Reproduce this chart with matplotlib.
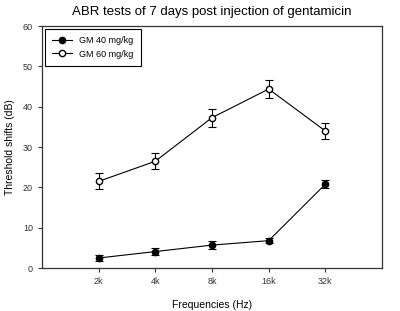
import matplotlib
matplotlib.use('Agg')
import matplotlib.pyplot as plt

# dados
freqs = ['2k', '4k', '8k', '16k', '32k']
gm40 = [2.5, 4.1, 5.7, 6.8, 20.8]
gm40_err = [0.7, 0.9, 1.0, 0.6, 1.0]
gm60 = [21.5, 26.5, 37.3, 44.4, 34.0]
gm60_err = [2.0, 2.0, 2.2, 2.2, 1.9]

plt.rcParams['font.family'] = ['Liberation Sans', 'DejaVu Sans']

fig = plt.figure(figsize=(4, 3.11), dpi=100)
ax = fig.add_axes([0.105, 0.138, 0.85, 0.778])

x = list(range(1, len(freqs) + 1))

# barras de erro primeiro, depois linhas com marcadores (legenda sem barras)
ax.errorbar(x, gm40, yerr=gm40_err, fmt='none', ecolor='black',
            elinewidth=0.8, capsize=3, capthick=0.8)
ax.errorbar(x, gm60, yerr=gm60_err, fmt='none', ecolor='black',
            elinewidth=0.8, capsize=3, capthick=0.8)
ax.plot(x, gm40, '-o', color='black', markerfacecolor='black', markersize=4.5,
        linewidth=0.8, label='GM 40 mg/kg')
ax.plot(x, gm60, '-o', color='black', markerfacecolor='white', markersize=4.5,
        linewidth=0.8, label='GM 60 mg/kg')

ax.set_xlim(0, 6)
ax.set_ylim(0, 60)
ax.set_xticks(x)
ax.set_xticklabels(freqs)
ax.set_yticks(range(0, 61, 10))
ax.tick_params(labelsize=6.5, length=3, width=0.8, direction='out', top=False, right=False,
               colors='#333333')

for s in ax.spines.values():
    s.set_linewidth(0.9)
    s.set_color('#333333')

ax.set_title('ABR tests of 7 days post injection of gentamicin', fontsize=9.5, pad=8)
ax.set_xlabel('Frequencies (Hz)', fontsize=7.5, labelpad=10)
ax.set_ylabel('Threshold shifts (dB)', fontsize=7.5, labelpad=6)

leg = ax.legend(loc='upper left', fontsize=6.5, fancybox=False, edgecolor='black',
                framealpha=1, borderaxespad=0.3, handlelength=2.2, borderpad=0.8)
leg.get_frame().set_linewidth(0.8)

plt.savefig('out.png', dpi=100)
